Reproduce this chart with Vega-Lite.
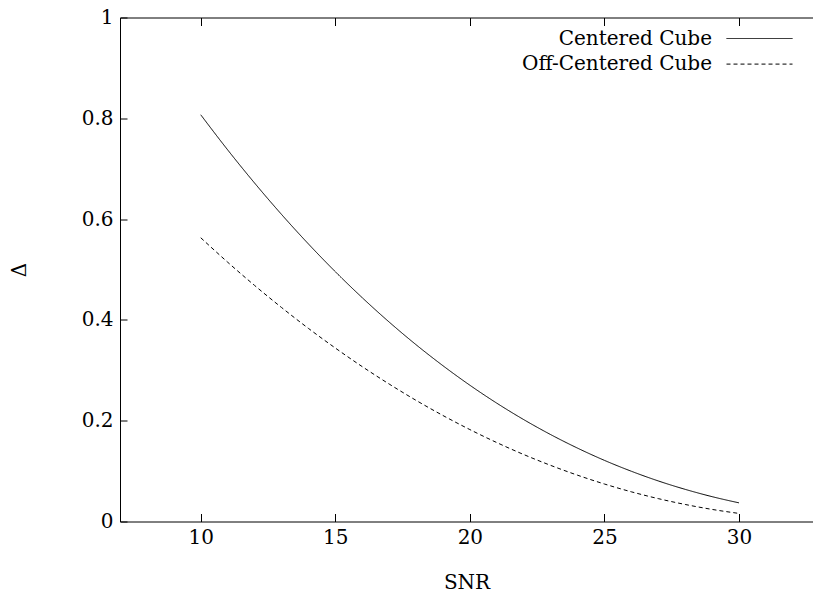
{
  "$schema": "https://vega.github.io/schema/vega-lite/v6.json",
  "width": 693,
  "height": 504,
  "autosize": {"type": "none"},
  "padding": {"left": 120, "top": 17.5, "right": 0, "bottom": 77.5},
  "config": {
    "view": {"stroke": null},
    "font": "DejaVu Serif",
    "axis": {"grid": false, "domainColor": "black", "tickColor": "black", "labelColor": "black", "titleColor": "black", "labelFont": "DejaVu Serif", "titleFont": "DejaVu Serif", "labelFontSize": 20, "titleFontSize": 20, "titleFontWeight": "normal", "domainWidth": 1, "tickWidth": 1}
  },
  "data": {"values": [
    {"snr": 10, "delta": 0.807, "series": "Centered Cube"},
    {"snr": 11, "delta": 0.7374, "series": "Centered Cube"},
    {"snr": 12, "delta": 0.6716, "series": "Centered Cube"},
    {"snr": 13, "delta": 0.6094, "series": "Centered Cube"},
    {"snr": 14, "delta": 0.5508, "series": "Centered Cube"},
    {"snr": 15, "delta": 0.4957, "series": "Centered Cube"},
    {"snr": 16, "delta": 0.4441, "series": "Centered Cube"},
    {"snr": 17, "delta": 0.3958, "series": "Centered Cube"},
    {"snr": 18, "delta": 0.3508, "series": "Centered Cube"},
    {"snr": 19, "delta": 0.3091, "series": "Centered Cube"},
    {"snr": 20, "delta": 0.2704, "series": "Centered Cube"},
    {"snr": 21, "delta": 0.2348, "series": "Centered Cube"},
    {"snr": 22, "delta": 0.2022, "series": "Centered Cube"},
    {"snr": 23, "delta": 0.1725, "series": "Centered Cube"},
    {"snr": 24, "delta": 0.1456, "series": "Centered Cube"},
    {"snr": 25, "delta": 0.1213, "series": "Centered Cube"},
    {"snr": 26, "delta": 0.0997, "series": "Centered Cube"},
    {"snr": 27, "delta": 0.0805, "series": "Centered Cube"},
    {"snr": 28, "delta": 0.0638, "series": "Centered Cube"},
    {"snr": 29, "delta": 0.0493, "series": "Centered Cube"},
    {"snr": 30, "delta": 0.037, "series": "Centered Cube"},
    {"snr": 10, "delta": 0.563, "series": "Off-Centered Cube"},
    {"snr": 11, "delta": 0.5145, "series": "Off-Centered Cube"},
    {"snr": 12, "delta": 0.4684, "series": "Off-Centered Cube"},
    {"snr": 13, "delta": 0.4247, "series": "Off-Centered Cube"},
    {"snr": 14, "delta": 0.3832, "series": "Off-Centered Cube"},
    {"snr": 15, "delta": 0.3442, "series": "Off-Centered Cube"},
    {"snr": 16, "delta": 0.3073, "series": "Off-Centered Cube"},
    {"snr": 17, "delta": 0.2728, "series": "Off-Centered Cube"},
    {"snr": 18, "delta": 0.2404, "series": "Off-Centered Cube"},
    {"snr": 19, "delta": 0.2103, "series": "Off-Centered Cube"},
    {"snr": 20, "delta": 0.1824, "series": "Off-Centered Cube"},
    {"snr": 21, "delta": 0.1566, "series": "Off-Centered Cube"},
    {"snr": 22, "delta": 0.1329, "series": "Off-Centered Cube"},
    {"snr": 23, "delta": 0.1114, "series": "Off-Centered Cube"},
    {"snr": 24, "delta": 0.0919, "series": "Off-Centered Cube"},
    {"snr": 25, "delta": 0.0744, "series": "Off-Centered Cube"},
    {"snr": 26, "delta": 0.0589, "series": "Off-Centered Cube"},
    {"snr": 27, "delta": 0.0454, "series": "Off-Centered Cube"},
    {"snr": 28, "delta": 0.0338, "series": "Off-Centered Cube"},
    {"snr": 29, "delta": 0.024, "series": "Off-Centered Cube"},
    {"snr": 30, "delta": 0.016, "series": "Off-Centered Cube"}
  ]},
  "layer": [
    {
      "mark": {"type": "line", "color": "black", "strokeWidth": 1, "interpolate": "monotone"},
      "encoding": {
        "x": {"field": "snr", "type": "quantitative", "scale": {"domain": [7, 32.75], "nice": false, "zero": false},
          "axis": {"orient": "bottom", "values": [10, 15, 20, 25, 30], "tickSize": -8, "labelPadding": 14, "title": "SNR", "titlePadding": 25}},
        "y": {"field": "delta", "type": "quantitative", "scale": {"domain": [0, 1], "nice": false},
          "axis": {"values": [0, 0.2, 0.4, 0.6, 0.8, 1], "format": "~g", "tickSize": -7, "labelPadding": 14, "title": "Δ", "titlePadding": 52}},
        "strokeDash": {"field": "series", "type": "nominal", "scale": {"domain": ["Centered Cube", "Off-Centered Cube"], "range": [[1, 0], [4, 3]]},
          "legend": {"orient": "none", "legendX": 628, "legendY": 9.5, "title": null, "padding": 0, "symbolType": "M-3,0H3", "symbolSize": 484, "symbolStrokeColor": "black", "symbolStrokeWidth": 1, "labelAlign": "right", "labelOffset": -59, "labelFontSize": 20, "labelFont": "DejaVu Serif", "labelColor": "black", "rowPadding": 3.6, "labelLimit": 400}}
      }
    },
    {
      "mark": {"type": "line", "opacity": 0},
      "encoding": {
        "x": {"field": "snr", "type": "quantitative", "axis": {"orient": "top", "values": [10, 15, 20, 25, 30], "tickSize": -8, "labels": false, "title": null}},
        "y": {"field": "delta", "type": "quantitative"},
        "detail": {"field": "series"}
      }
    }
  ],
  "resolve": {"axis": {"x": "independent"}}
}
